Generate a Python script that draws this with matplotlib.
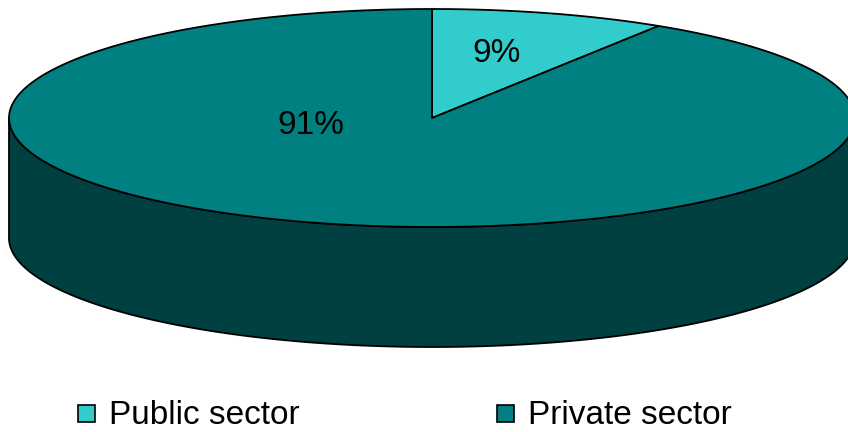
import numpy as np
import matplotlib.pyplot as plt
from matplotlib.patches import Polygon, Rectangle

plt.rcParams['font.family'] = ['Liberation Sans', 'DejaVu Sans']

sectors = ["Public sector", "Private sector"]
shares = [9, 91]
top_colors = ["#33CCCC", "#008080"]
side_colors = ["#1A6666", "#004040"]

# label anchors (pixel coords) and legend layout
label_pos = [(497, 62), (311, 134)]
legend_x = [78, 497]
legend_y = 405

cx, cy = 432, 118
rx, ry = 423, 109
depth = 120

fig = plt.figure(figsize=(8.48, 4.32), dpi=100)
ax = fig.add_axes([0, 0, 1, 1])
ax.set_xlim(0, 848)
ax.set_ylim(432, 0)
ax.axis("off")


def rim(t0, t1, dy=0, n=300):
    t = np.radians(np.linspace(t0, t1, n))
    return np.column_stack([cx + rx * np.cos(t), cy - ry * np.sin(t) + dy])


# slice boundaries, clockwise from 12 o'clock
bounds = 90 - 360 * np.cumsum([0] + shares) / sum(shares)

# side walls (only the front half, angles -180..0, is visible)
for i in range(len(shares)):
    start, end = bounds[i], bounds[i + 1]
    for k in (-360, 0, 360):
        lo = max(end, -180 + k)
        hi = min(start, 0 + k)
        if hi <= lo:
            continue
        top = rim(hi, lo)
        bot = rim(lo, hi, dy=depth)
        ax.add_patch(Polygon(np.vstack([top, bot]), closed=True,
                             facecolor=side_colors[i], edgecolor="black",
                             linewidth=1.3, joinstyle="round"))

# top faces
for i in range(len(shares)):
    pts = np.vstack([[cx, cy], rim(bounds[i], bounds[i + 1])])
    ax.add_patch(Polygon(pts, closed=True, facecolor=top_colors[i],
                         edgecolor="black", linewidth=1.3, joinstyle="round"))

for (x, y), v in zip(label_pos, shares):
    ax.text(x, y, f"{v}%", fontsize=24, ha="center", va="baseline")

# legend
for x, name, c in zip(legend_x, sectors, top_colors):
    ax.add_patch(Rectangle((x, legend_y), 17, 17, facecolor=c,
                           edgecolor="black", linewidth=1.2))
    ax.text(x + 31, legend_y + 19, name, fontsize=24, ha="left", va="baseline")

fig.savefig("out.png", dpi=100)
